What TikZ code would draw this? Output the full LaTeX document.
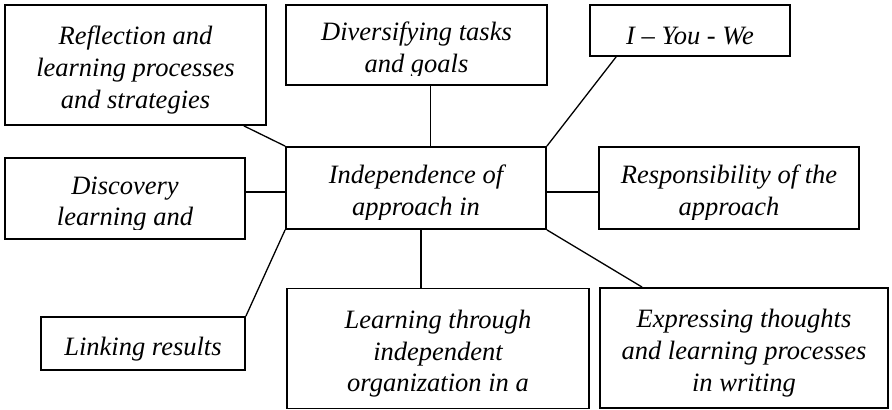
\documentclass[tikz,border=0pt]{standalone}
\usepackage{fontspec}
\setmainfont{Liberation Serif}

\begin{document}
\begin{tikzpicture}[x=0.5pt,y=-0.5pt,
  words/.style={anchor=north,align=center,inner sep=0pt,font=\fontsize{13.25}{15.9}\selectfont\itshape},
  topic/.style n args={3}{draw,line width=0.9pt,rectangle,inner sep=0pt,
    minimum width=#1,minimum height=#2,
    path picture={
      % text is cut off a little above the lower edge
      \clip ([yshift=4.75pt]path picture bounding box.south west) rectangle (path picture bounding box.north east);
      \node[words] at ([yshift=-1.75pt]path picture bounding box.north) {\rule{0pt}{10pt}#3};}},
  spoke/.style={line width=0.65pt}]
  \useasboundingbox (0,0) rectangle (892,410);
  % centre box and the eight topics round it
  \node[topic={130pt}{41pt}{Independence of\\approach in}] (core) at (416,188) {};
  \node[topic={130.5pt}{60pt}{Reflection and\\learning processes\\and strategies}] (refl) at (135.5,65) {};
  \node[topic={130.5pt}{40pt}{Diversifying tasks\\and goals}] (div) at (416.5,45) {};
  \node[topic={100pt}{25.5pt}{I – You - We}] (iyw) at (690,30.5) {};
  \node[topic={120pt}{40.5pt}{Discovery\\learning and}] (disc) at (125,198.5) {};
  \node[topic={130pt}{41pt}{Responsibility of the\\approach}] (resp) at (729,188) {};
  \node[topic={102pt}{26.5pt}{Linking results}] (link) at (143,343.5) {};
  \node[topic={151pt}{60pt}{Learning through\\independent\\organization in a}] (lthr) at (438,348.5) {};
  \node[topic={144pt}{60pt}{Expressing thoughts\\and learning processes\\in writing}] (expr) at (744,348) {};
  % spokes
  \draw[spoke] ([xshift=-11.5pt]refl.south east) -- (core.north west);
  \draw[spoke] ([xshift=7pt]div.south) -- ([xshift=7pt]div.south |- core.north);
  \draw[spoke] ([xshift=13.5pt]iyw.south west) -- (core.north east);
  \draw[spoke] ([yshift=-2pt]core.west) -- ([yshift=-2pt]core.west -| disc.east);
  \draw[spoke] ([yshift=-2pt]core.east) -- ([yshift=-2pt]core.east -| resp.west);
  \draw[spoke] (core.south west) -- (link.north east);
  \draw[spoke] ([xshift=2.5pt]core.south) -- ([xshift=2.5pt]core.south |- lthr.north);
  \draw[spoke] (core.south east) -- ([xshift=21.5pt]expr.north west);
\end{tikzpicture}
\end{document}
